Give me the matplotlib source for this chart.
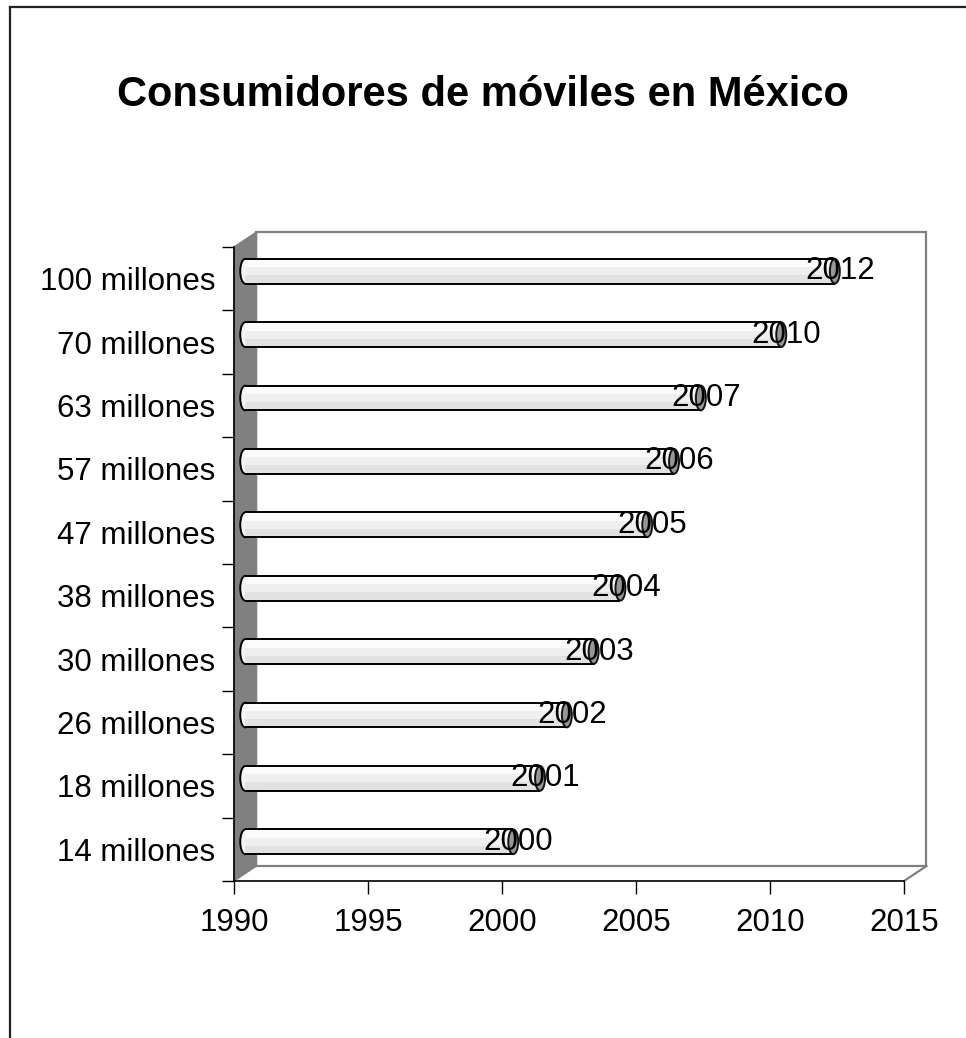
import numpy as np
import matplotlib
matplotlib.use('Agg')
import matplotlib.pyplot as plt
from matplotlib.patches import Rectangle, Ellipse, Polygon
from matplotlib.lines import Line2D

plt.rcParams['font.family'] = ['Liberation Sans', 'DejaVu Sans']

# subscribers (category labels) and the year each level was reached
labels = ['14 millones', '18 millones', '26 millones', '30 millones', '38 millones',
          '47 millones', '57 millones', '63 millones', '70 millones', '100 millones']
years = [2000, 2001, 2002, 2003, 2004, 2005, 2006, 2007, 2010, 2012]
xticks = [1990, 1995, 2000, 2005, 2010, 2015]

W, H, DPI = 966, 1038, 100
fig = plt.figure(figsize=(W / DPI, H / DPI), dpi=DPI)

# front plane of the pseudo-3d box, in pixels
left, right, top, bottom = 234, 904, 247, 881
ax = fig.add_axes([left / W, 1 - bottom / H, (right - left) / W, (bottom - top) / H])
x0, x1 = xticks[0], xticks[-1]
n = len(labels)
ax.set_xlim(x0, x1)
ax.set_ylim(0, n)

# depth of the box, converted to data units
px_x = (right - left) / (x1 - x0)
px_y = (bottom - top) / n
ddx, ddy = 22.5 / px_x, 15.0 / px_y
mx, my = ddx / 2, ddy / 2

grey = '#808080'
# back wall
ax.add_patch(Rectangle((x0 + ddx, ddy), x1 - x0, n, facecolor='white',
                       edgecolor=grey, lw=1.6, clip_on=False, zorder=0))
# side wall
ax.add_patch(Polygon([(x0, 0), (x0 + ddx, ddy), (x0 + ddx, n + ddy), (x0, n)],
                     closed=True, facecolor=grey, edgecolor=grey, lw=1.0,
                     clip_on=False, zorder=1))
# floor edge
ax.add_line(Line2D([x1, x1 + ddx], [0, ddy], color=grey, lw=1.6, clip_on=False, zorder=1))

# cylinders
h = 0.39
cap = 10.0 / px_x
bands = [(0.0, 0.34, '#e2e2e2'), (0.34, 0.66, '#efefef'), (0.66, 1.0, '#fbfbfb')]
for i, (lab, yr) in enumerate(zip(labels, years)):
    yc = i + 0.5 + my
    xs = x0 + mx
    xe = yr + mx
    ax.add_patch(Ellipse((xs, yc), cap, h, facecolor='#f4f4f4', edgecolor='black',
                         lw=1.4, clip_on=False, zorder=2))
    for b0, b1, c in bands:
        ax.add_patch(Rectangle((xs, yc - h / 2 + b0 * h), xe - xs, (b1 - b0) * h,
                               facecolor=c, edgecolor='none', clip_on=False, zorder=3))
    ax.plot([xs, xe], [yc + h / 2] * 2, color='black', lw=1.4, zorder=4,
            solid_capstyle='butt', clip_on=False)
    ax.plot([xs, xe], [yc - h / 2] * 2, color='black', lw=1.4, zorder=4,
            solid_capstyle='butt', clip_on=False)
    ax.add_patch(Ellipse((xe, yc), cap, h, facecolor='#8c8c8c', edgecolor='black',
                         lw=1.4, alpha=0.9, clip_on=False, zorder=5))
    ax.text(xe + 0.2, yc, str(yr), ha='center', va='center', fontsize=22.5,
            color='black', zorder=6)

# axes
for s in ['top', 'right']:
    ax.spines[s].set_visible(False)
for s in ['left', 'bottom']:
    ax.spines[s].set_color('black')
    ax.spines[s].set_linewidth(1.2)
    ax.spines[s].set_zorder(7)
ax.set_facecolor('none')

ax.set_xticks(xticks)
ax.set_xticklabels([str(t) for t in xticks], fontsize=22.5)
ax.tick_params(axis='x', direction='out', length=9.5, width=1.0, pad=10, colors='black')

ax.set_yticks(np.arange(n + 1))
ax.set_yticklabels([])
ax.set_yticks(np.arange(n) + 0.5, minor=True)
ax.set_yticklabels(labels, minor=True, fontsize=22.5)
ax.tick_params(axis='y', which='major', direction='out', length=9, width=1.0, colors='black')
ax.tick_params(axis='y', which='minor', length=0, pad=13.5)

fig.text(0.5, 1 - 95 / H, 'Consumidores de móviles en México', ha='center',
         va='center', fontsize=30, fontweight='bold')

# outer frame (left and top edges)
fig.add_artist(Line2D([10 / W, 10 / W], [0, 1 - 7 / H], color='#222222', lw=1.6))
fig.add_artist(Line2D([10 / W, 1], [1 - 7 / H, 1 - 7 / H], color='#222222', lw=1.6))

fig.savefig('out.png', dpi=DPI)
